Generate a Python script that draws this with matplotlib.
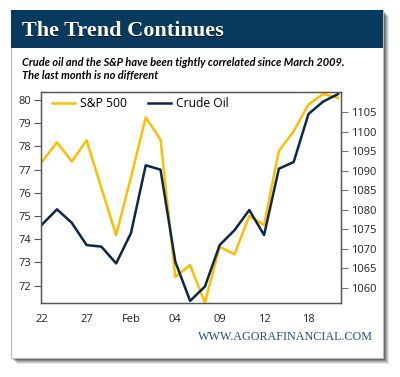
import matplotlib
matplotlib.use("Agg")
import matplotlib.pyplot as plt
from matplotlib.patches import Rectangle

# ---- data ----
tick_labels = ["22", "27", "Feb", "04", "09", "12", "18"]
tick_positions = [0, 3, 6, 9, 12, 15, 18]
sp500 = [1092.4, 1097.3, 1092.4, 1097.8, 1085.6, 1073.5, 1088.3, 1103.7, 1098.0,
         1062.8, 1065.8, 1056.2, 1070.5, 1068.6, 1078.4, 1076.1, 1095.1, 1100.1,
         1107.0, 1109.7, 1108.7]
crude = [74.64, 75.29, 74.71, 73.75, 73.68, 72.96, 74.26, 77.19, 77.00,
         73.03, 71.34, 71.96, 73.75, 74.39, 75.26, 74.18, 77.04, 77.33,
         79.40, 79.94, 80.26]
left_ticks = [72, 73, 74, 75, 76, 77, 78, 79, 80]
right_ticks = [1060, 1065, 1070, 1075, 1080, 1085, 1090, 1095, 1100, 1105]

YELLOW = "#FFBE00"
NAVY = "#0A2848"
BANNER = "#073A5E"

W, H = 400, 377
fig = plt.figure(figsize=(W / 100, H / 100), dpi=100)
fig.patch.set_facecolor("white")

def fx(px):
    return px / W

def fy(py):
    return 1 - py / H

# card shadow
for i, a in enumerate([0.10, 0.12, 0.15, 0.2, 0.25]):
    off = 6 - i
    fig.patches.append(Rectangle((fx(11 + off), fy(358 + off)), fx(372), 348 / H,
                                 transform=fig.transFigure, facecolor="black",
                                 alpha=a, edgecolor="none", zorder=-5))
# card
fig.patches.append(Rectangle((fx(11), fy(358)), fx(372), 348 / H,
                             transform=fig.transFigure, facecolor="white",
                             edgecolor="#BBBBBB", linewidth=0.8, zorder=-4))
# banner
fig.patches.append(Rectangle((fx(11), fy(47.5)), fx(372), 37.5 / H,
                             transform=fig.transFigure, facecolor=BANNER,
                             edgecolor="none", zorder=-3))

# title with shadow
fig.text(fx(22.5), fy(36.8), "The Trend Continues", family="Liberation Serif",
         fontsize=16, fontweight="bold", color="black", alpha=0.8, zorder=3)
fig.text(fx(21.7), fy(36), "The Trend Continues", family="Liberation Serif",
         fontsize=16, fontweight="bold", color="white", zorder=4)

fig.text(fx(21.7), fy(65.7),
         "Crude oil and the S&P have been tightly correlated since March 2009.",
         family="Lato", fontsize=7.9, fontstyle="italic", fontweight="bold",
         color="black")
fig.text(fx(21.7), fy(79), "The last month is no different",
         family="Lato", fontsize=7.9, fontstyle="italic", fontweight="bold",
         color="black")

fig.text(fx(373), fy(340), "WWW.AGORAFINANCIAL.COM", family="Liberation Serif",
         fontsize=8.7, color="#1F4F8A", ha="right")

# axes
ax = fig.add_axes([fx(41), fy(303), fx(300), (303 - 92) / H])
ax2 = ax.twinx()
x = list(range(len(sp500)))
ax2.plot(x, sp500, color=YELLOW, linewidth=1.8, label="S&P 500")
ax.plot(x, crude, color=NAVY, linewidth=1.8, label="Crude Oil")
ax.set_zorder(ax2.get_zorder() + 1)
ax.patch.set_visible(False)

ax.set_xlim(-0.08, 20.2)
ax.set_ylim(71.25, 80.35)
ax2.set_ylim(1056.1, 1110.2)
ax.set_yticks(left_ticks)
ax2.set_yticks(right_ticks)
ax.set_xticks(tick_positions)
ax.set_xticklabels(tick_labels)

for a in (ax, ax2):
    for s in a.spines.values():
        s.set_color("#555555")
        s.set_linewidth(0.9)
    a.tick_params(labelsize=8, colors="#222222", length=5, width=0.8, pad=2,
                  labelfontfamily="Open Sans")
ax.tick_params(axis="y", color="#555555")
ax2.tick_params(axis="y", color="#777777")
ax.tick_params(axis="x", length=0, pad=8)

h1, l1 = ax2.get_legend_handles_labels()
h2, l2 = ax.get_legend_handles_labels()
leg = ax.legend(h1 + h2, l1 + l2, loc="center left",
                bbox_to_anchor=(0.021, 0.945), ncol=2, frameon=False,
                handlelength=1.9, columnspacing=1.75,
                handletextpad=0.4, borderaxespad=0.0,
                prop={"family": "Open Sans", "size": 8.7})

fig.savefig("out.png", dpi=100)
